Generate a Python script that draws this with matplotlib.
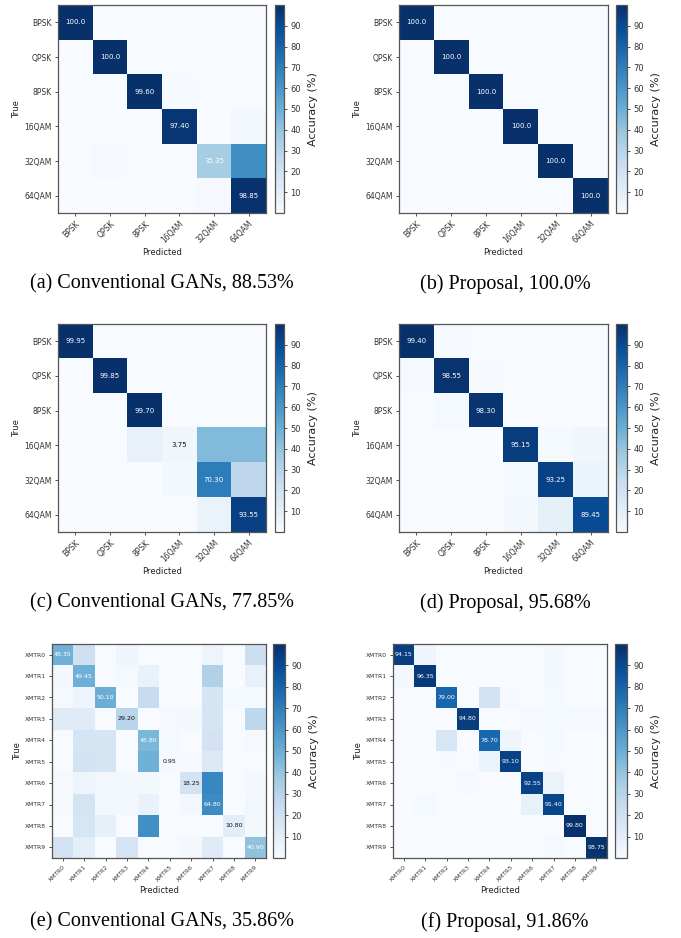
import numpy as np
import matplotlib
matplotlib.use('Agg')
import matplotlib.pyplot as plt

# class names
mods = ['BPSK', 'QPSK', '8PSK', '16QAM', '32QAM', '64QAM']
xmtrs = ['XMTR0', 'XMTR1', 'XMTR2', 'XMTR3', 'XMTR4',
         'XMTR5', 'XMTR6', 'XMTR7', 'XMTR8', 'XMTR9']

# confusion matrices (% per true class)
cm_a = [[100.0, 0, 0, 0, 0, 0],
        [0, 100.0, 0, 0, 0, 0],
        [0, 0, 99.60, 0.40, 0, 0],
        [0, 0, 0, 97.40, 0, 2.60],
        [0, 1.0, 0, 0, 35.35, 63.65],
        [0, 0, 0, 0, 1.15, 98.85]]

cm_b = [[100.0, 0, 0, 0, 0, 0],
        [0, 100.0, 0, 0, 0, 0],
        [0, 0, 100.0, 0, 0, 0],
        [0, 0, 0, 100.0, 0, 0],
        [0, 0, 0, 0, 100.0, 0],
        [0, 0, 0, 0, 0, 100.0]]

cm_c = [[99.95, 0.05, 0, 0, 0, 0],
        [0.15, 99.85, 0, 0, 0, 0],
        [0, 0.30, 99.70, 0, 0, 0],
        [0, 0, 7.50, 3.75, 44.50, 44.25],
        [0, 0, 0, 2.00, 70.30, 27.70],
        [0, 0, 0, 0, 6.45, 93.55]]

cm_d = [[99.40, 0.60, 0, 0, 0, 0],
        [1.00, 98.55, 0.45, 0, 0, 0],
        [0, 1.50, 98.30, 0.20, 0, 0],
        [0, 0, 0, 95.15, 1.50, 3.35],
        [0, 0, 0, 1.50, 93.25, 5.25],
        [0, 0, 0, 2.05, 8.50, 89.45]]

cm_e = [[48.35, 21.0, 0, 4.0, 0, 0, 0, 5.0, 0, 21.65],
        [3.0, 49.45, 0, 1.5, 7.0, 0, 0, 32.0, 0, 7.05],
        [1.0, 5.0, 50.10, 0, 24.0, 0, 0, 17.0, 1.5, 1.4],
        [12.0, 12.0, 0, 29.20, 0, 1.0, 2.0, 17.0, 0, 26.8],
        [0, 17.0, 17.0, 0, 45.80, 1.2, 0, 18.0, 0, 1.0],
        [0, 18.0, 17.0, 0, 49.0, 0.95, 1.05, 13.0, 0, 0],
        [1.0, 5.0, 3.0, 2.0, 2.0, 0, 18.25, 66.75, 0, 2.0],
        [1.0, 17.2, 2.0, 2.0, 7.0, 0, 3.0, 64.80, 0, 3.0],
        [0, 16.0, 8.0, 0, 63.0, 0, 0, 0, 10.80, 2.2],
        [18.0, 10.0, 0, 17.0, 0, 0, 2.1, 12.0, 0, 40.90]]

cm_f = [[94.15, 4.0, 0, 0, 0, 0, 0, 1.85, 0, 0],
        [2.0, 96.35, 0, 0, 0, 0, 0, 1.65, 0, 0],
        [0, 0, 79.00, 0, 18.0, 1.5, 0, 1.5, 0, 0],
        [0, 0, 0, 94.80, 0, 0, 1.3, 1.3, 1.3, 1.3],
        [0, 0, 16.0, 0, 78.70, 4.0, 0, 1.3, 0, 0],
        [0, 0, 0.5, 0, 6.0, 93.10, 0, 0.4, 0, 0],
        [0, 0, 0, 1.0, 0, 0, 92.55, 6.45, 0, 0],
        [0, 1.5, 0, 0, 0, 0, 7.10, 91.40, 0, 0],
        [0, 0, 0, 0, 0, 0, 0, 0.2, 99.80, 0],
        [0, 0, 0, 0, 0, 0, 0, 1.25, 0, 98.75]]

captions = ['(a) Conventional GANs, 88.53%', '(b) Proposal, 100.0%',
            '(c) Conventional GANs, 77.85%', '(d) Proposal, 95.68%',
            '(e) Conventional GANs, 35.86%', '(f) Proposal, 91.86%']

W, H = 681, 938
fig = plt.figure(figsize=(W / 100, H / 100), dpi=100)


def rect(x0, y0, x1, y1):
    return [x0 / W, 1 - y1 / H, (x1 - x0) / W, (y1 - y0) / H]


def panel(cm, labels, hm_box, cb_box, small=False):
    cm = np.array(cm)
    ax = fig.add_axes(rect(*hm_box))
    im = ax.imshow(cm, cmap='Blues', vmin=0, vmax=100,
                   interpolation='nearest', aspect='auto')
    n = len(labels)
    fs = 4.3 if small else 5.5
    ax.set_xticks(range(n))
    ax.set_yticks(range(n))
    ax.set_xticklabels(labels, rotation=45, ha='right',
                       rotation_mode='anchor', fontsize=fs, color='#333333')
    ax.set_yticklabels(labels, fontsize=fs, color='#333333')
    ax.tick_params(length=2.5, width=0.6, pad=2, colors='#333333')
    ax.set_xlabel('Predicted', fontsize=6, color='#222222', labelpad=2)
    ax.set_ylabel('True', fontsize=6, color='#222222', labelpad=2)
    for s in ax.spines.values():
        s.set_color('#555555')
        s.set_linewidth(0.9)
    # diagonal values
    for i in range(n):
        v = cm[i, i]
        txt = '%.1f' % v if v >= 100 else '%.2f' % v
        ax.text(i, i, txt, ha='center', va='center',
                fontsize=4.5 if small else 5,
                color='white' if v > 30 else '#111111')
    cax = fig.add_axes(rect(*cb_box))
    cb = fig.colorbar(im, cax=cax, ticks=range(10, 100, 10))
    cb.outline.set_edgecolor('#555555')
    cb.outline.set_linewidth(0.9)
    cax.tick_params(labelsize=6, length=2.5, width=0.6, pad=2,
                    colors='#333333')
    cb.set_label('Accuracy (%)', fontsize=8, color='#222222', labelpad=5)


panel(cm_a, mods, (58, 5, 266, 213), (275, 5, 284, 213))
panel(cm_b, mods, (399, 5, 608, 213), (616, 5, 627, 213))
panel(cm_c, mods, (58, 324, 266, 532), (275, 324, 284, 532))
panel(cm_d, mods, (399, 324, 608, 532), (616, 324, 627, 532))
panel(cm_e, xmtrs, (52, 644, 266, 858), (273, 644, 285, 858), small=True)
panel(cm_f, xmtrs, (393, 644, 607, 858), (615, 644, 627, 858), small=True)

# sub-figure captions
cap_pos = [(162, 284), (505, 284), (162, 603), (505, 603), (162, 922), (505, 922)]
for (cx, cy), c in zip(cap_pos, captions):
    fig.text(cx / W, 1 - cy / H, c, ha='center', va='center',
             fontsize=14.5, family='Liberation Serif', color='black')

fig.savefig('out.png', dpi=100)
